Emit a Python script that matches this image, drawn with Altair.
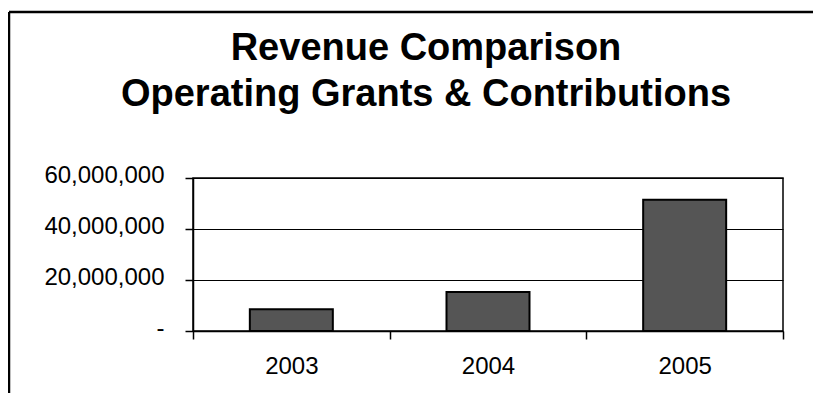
import altair as alt
import pandas as pd

years = ["2003", "2004", "2005"]
revenue = [8500000, 15300000, 51500000]
y_ticks = [0, 20000000, 40000000, 60000000]
title_lines = ["Revenue Comparison", "Operating Grants & Contributions"]

df = pd.DataFrame({"year": years, "revenue": revenue})
FONT = "Liberation Sans"

bars = alt.Chart(df).mark_bar(
    size=83, color="#555555", stroke="#000000", strokeWidth=2
).encode(
    x=alt.X("year:N", title=None,
            scale=alt.Scale(paddingInner=0, paddingOuter=0),
            axis=alt.Axis(labelAngle=0, tickBand="extent", tickSize=8,
                          labelFontSize=24, labelFont=FONT, labelColor="#000",
                          labelPadding=15, domainColor="#000", domainWidth=1.5,
                          tickColor="#000", tickWidth=1.5, grid=False)),
    y=alt.Y("revenue:Q", title=None,
            scale=alt.Scale(domain=[0, 60000000], nice=False),
            axis=alt.Axis(values=y_ticks, tickSize=8, labelPadding=21,
                          labelFontSize=24, labelFont=FONT, labelColor="#000",
                          labelOffset=-3,
                          labelExpr="datum.value == 0 ? '-\u00a0\u00a0\u00a0\u00a0' : format(datum.value, ',')",
                          domainColor="#000", domainWidth=1.5,
                          tickColor="#000", tickWidth=1.5,
                          grid=True, gridColor="#000", gridWidth=1.2)),
)

frame_df = pd.DataFrame({"k": [0]})
top_rule = alt.Chart(frame_df).mark_rule(color="#000", strokeWidth=2.5).encode(
    x=alt.value(-184), x2=alt.value(640), y=alt.value(-166))
left_rule = alt.Chart(frame_df).mark_rule(color="#000", strokeWidth=2.5).encode(
    x=alt.value(-184), y=alt.value(-166), y2=alt.value(260))

chart = alt.layer(bars, top_rule, left_rule).properties(
    width=590, height=153,
    title=alt.TitleParams(title_lines, fontSize=38, fontWeight="bold", font=FONT,
                          lineHeight=46, anchor="middle", dx=-62, offset=-141,
                          frame="group", baseline="bottom", color="#000"),
    autosize=alt.AutoSizeParams(type="none"),
    padding={"left": 185, "top": 170, "right": 30, "bottom": 62},
).configure_view(stroke="#000", strokeWidth=1.5)

chart.save("out.html", embed_options={"renderer": "svg", "actions": False})
